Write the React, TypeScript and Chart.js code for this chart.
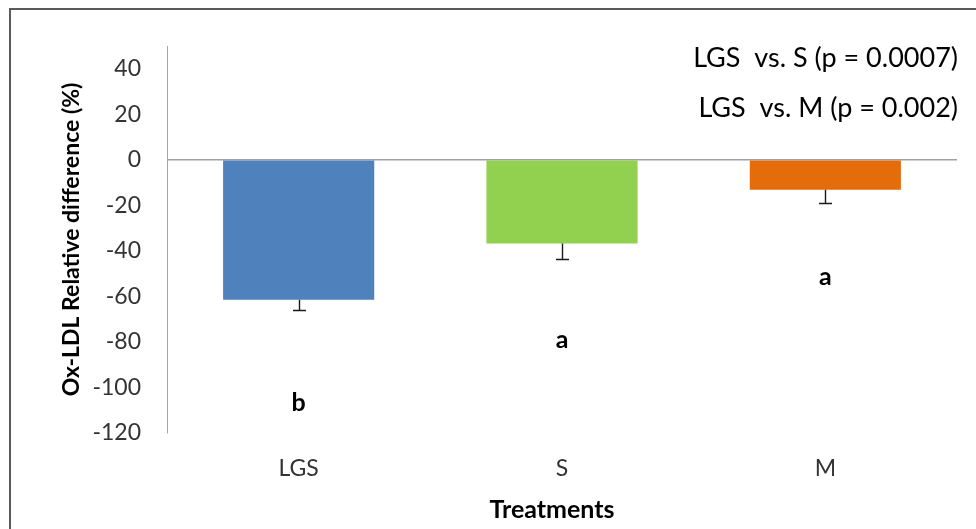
import React, { useEffect, useRef } from "react";
import { Chart, registerables } from "chart.js";

Chart.register(...registerables);

// ---- data ----
const categories = ["LGS", "S", "M"];
const values = [-61.5, -36.8, -13.2];
const errorsMinus = [4.4, 6.7, 5.6];
const letters = ["b", "a", "a"];
const letterValues = [-107, -79, -51.5];
const barColors = ["#4F81BD", "#92D050", "#E46C0A"];
const yTickValues = [-120, -100, -80, -60, -40, -20, 0, 20, 40];
const yMin = -120;
const yMax = 50;
const notes = ["LGS  vs. S (p = 0.0007)", "LGS  vs. M (p = 0.002)"];
const yTitle = "Ox-LDL Relative difference (%)";
const xTitle = "Treatments";

const FONT = "Lato, 'Liberation Sans', sans-serif";

const overlayPlugin = {
  id: "overlay",
  afterDatasetsDraw(chart: any) {
    const { ctx, chartArea } = chart;
    const x = chart.scales.x;
    const y = chart.scales.y;
    ctx.save();
    // error bars
    ctx.strokeStyle = "#1a1a1a";
    ctx.lineWidth = 1.4;
    values.forEach((v, i) => {
      const px = Math.round(x.getPixelForValue(i)) + 0.5;
      const y0 = y.getPixelForValue(v);
      const y1 = Math.round(y.getPixelForValue(v - errorsMinus[i])) + 0.5;
      ctx.beginPath();
      ctx.moveTo(px, y0);
      ctx.lineTo(px, y1);
      ctx.moveTo(px - 6.5, y1);
      ctx.lineTo(px + 6.5, y1);
      ctx.stroke();
    });
    // significance letters
    ctx.fillStyle = "#000";
    ctx.font = `bold 25px ${FONT}`;
    ctx.textAlign = "center";
    ctx.textBaseline = "middle";
    letters.forEach((l, i) => {
      ctx.fillText(l, x.getPixelForValue(i), y.getPixelForValue(letterValues[i]));
    });
    // notes (top right)
    ctx.font = `27px ${FONT}`;
    ctx.textAlign = "right";
    notes.forEach((t, i) => {
      ctx.fillText(t, chartArea.right + 1, 58 + i * 50);
    });
    // x axis title
    ctx.font = `bold 25px ${FONT}`;
    ctx.textAlign = "center";
    ctx.fillText(xTitle, (chartArea.left + chartArea.right) / 2 - 10, 510);
    ctx.restore();
  },
};

export default function App() {
  const canvasRef = useRef<HTMLCanvasElement | null>(null);

  useEffect(() => {
    const canvas = canvasRef.current;
    if (!canvas) return;
    const chart = new Chart(canvas, {
      type: "bar",
      data: {
        labels: categories,
        datasets: [
          {
            data: values,
            backgroundColor: barColors,
            borderWidth: 0,
            barPercentage: 0.574,
            categoryPercentage: 1,
          },
        ],
      },
      options: {
        responsive: false,
        animation: false,
        devicePixelRatio: 1,
        layout: { padding: { top: 46, right: 19, left: 0, bottom: 0 } },
        plugins: {
          legend: { display: false },
          tooltip: { enabled: false },
        },
        scales: {
          x: {
            grid: { display: false, drawTicks: false },
            border: { display: false },
            ticks: {
              color: "#333333",
              font: { family: FONT, size: 23 },
              padding: 22,
            },
            afterFit: (s: any) => {
              s.height = 96;
            },
          },
          y: {
            min: yMin,
            max: yMax,
            afterBuildTicks: (s: any) => {
              s.ticks = yTickValues.map((v) => ({ value: v }));
            },
            grid: {
              drawTicks: false,
              lineWidth: 1.5,
              color: (c: any) => (c.tick && c.tick.value === 0 ? "#a0a0a0" : "rgba(0,0,0,0)"),
            },
            border: { display: true, color: "#a6a6a6", width: 1 },
            ticks: {
              color: "#333333",
              font: { family: FONT, size: 23 },
              padding: 26,
            },
            title: {
              display: true,
              text: yTitle,
              color: "#000",
              font: { family: FONT, size: 23, weight: "bold" },
              padding: { top: 58, bottom: 0 },
            },
            afterFit: (s: any) => {
              s.width = 167;
            },
          },
        },
      },
      plugins: [overlayPlugin],
    });
    return () => chart.destroy();
  }, []);

  return (
    <div style={{ position: "fixed", left: 0, top: 0, width: 976, height: 529, background: "#fff" }}>
      <canvas ref={canvasRef} width={976} height={529} style={{ display: "block", width: 976, height: 529 }} />
      <div
        style={{
          position: "absolute",
          left: 9,
          top: 8,
          right: 0,
          bottom: 0,
          borderTop: "2px solid #5a5a5a",
          borderLeft: "2px solid #5a5a5a",
          pointerEvents: "none",
        }}
      />
    </div>
  );
}
